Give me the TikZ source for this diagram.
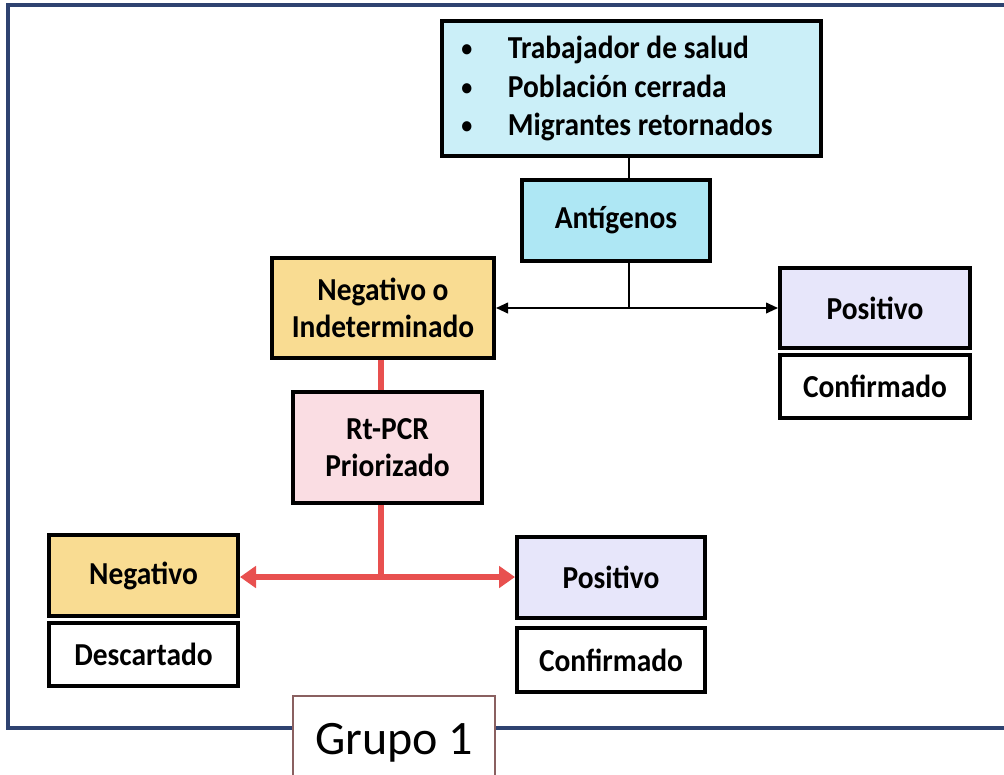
\documentclass[tikz,border=0pt]{standalone}
\usepackage{fontspec}
\setmainfont{Carlito}
\newfontfamily\boxfont[FakeStretch=0.92]{Carlito}
\usetikzlibrary{arrows.meta}
\definecolor{framec}{HTML}{2E4270}
\definecolor{bluec}{HTML}{CBEFF8}
\definecolor{blued}{HTML}{AEE7F4}
\definecolor{orangec}{HTML}{F9DC92}
\definecolor{lavc}{HTML}{E7E6FA}
\definecolor{pinkc}{HTML}{FADDE3}
\definecolor{redc}{HTML}{E8504F}
\definecolor{grupoc}{HTML}{8A6060}
\tikzset{
  box/.style={draw=black, line width=3pt, rectangle, inner sep=0pt, align=center,
    font=\boxfont\fontsize{24}{28}\selectfont\bfseries},
  blk/.style={draw=black, line width=1.4pt},
  redl/.style={draw=redc, line width=4.5pt},
}
\newcommand{\blt}{\makebox[35pt][l]{\raisebox{1.5pt}{\scalebox{0.75}{\textbullet}}}}
\begin{document}
\begin{tikzpicture}[x=0.75pt,y=-0.75pt]
\useasboundingbox (0,0) rectangle (1004,775);
\begin{scope}
\clip (0,0) rectangle (1004,775);
\draw[framec, line width=2.5pt] (8,5) rectangle (1030,728);
\node[draw=grupoc, line width=0.9pt, fill=white, minimum width=202*0.75pt, minimum height=94*0.75pt, inner sep=0pt] (grupo) at (394,743) {};
\end{scope}
\node[font=\fontsize{36}{40}\selectfont] (grupolbl) at (394,743) {Grupo 1};

\node[box, fill=bluec, minimum width=379*0.75pt, minimum height=135*0.75pt] (top) at (631.5,88.5) {};
\node[font=\boxfont\fontsize{24}{29}\selectfont\bfseries, align=left, anchor=west, inner sep=0pt] (toptxt) at (461,88.5) {%
\blt Trabajador de salud\\
\blt Población cerrada\\
\blt Migrantes retornados};

\node[box, fill=blued, minimum width=188*0.75pt, minimum height=81*0.75pt] (ant) at (616,220.5) {Antígenos};
\node[box, fill=orangec, minimum width=222*0.75pt, minimum height=100*0.75pt] (neg1) at (383,308) {Negativo o\\Indeterminado};
\node[box, fill=lavc, minimum width=190*0.75pt, minimum height=80*0.75pt] (pos1) at (875,308) {Positivo};
\node[box, fill=white, minimum width=190*0.75pt, minimum height=63*0.75pt] (conf1) at (875,386.5) {Confirmado};
\node[box, fill=pinkc, minimum width=189*0.75pt, minimum height=111*0.75pt] (rt) at (387.5,447.5) {Rt-PCR\\Priorizado};
\node[box, fill=orangec, minimum width=189*0.75pt, minimum height=81*0.75pt] (neg2) at (143.5,575.5) {Negativo};
\node[box, fill=white, minimum width=189*0.75pt, minimum height=63*0.75pt] (desc) at (143.5,654.5) {Descartado};
\node[box, fill=lavc, minimum width=188*0.75pt, minimum height=81*0.75pt] (pos2) at (611,577.5) {Positivo};
\node[box, fill=white, minimum width=188*0.75pt, minimum height=64*0.75pt] (conf2) at (611,660) {Confirmado};

\coordinate (j1) at (629,308);
\coordinate (j2) at (381,577);
\draw[blk] (top.south -| j1) -- (ant.north -| j1);
\draw[blk] (ant.south -| j1) -- (j1);
\draw[blk, -{Triangle[length=9pt,width=8pt]}] (j1) -- (neg1.east |- j1);
\draw[blk, -{Triangle[length=9pt,width=8pt]}] (j1) -- (pos1.west |- j1);
\draw[redl] (neg1.south -| j2) -- (rt.north -| j2);
\draw[redl] (rt.south -| j2) -- (j2);
\draw[redl, -{Triangle[length=12pt,width=16pt]}] (j2) -- (neg2.east |- j2);
\draw[redl, -{Triangle[length=12pt,width=16pt]}] (j2) -- (pos2.west |- j2);
\end{tikzpicture}
\end{document}
